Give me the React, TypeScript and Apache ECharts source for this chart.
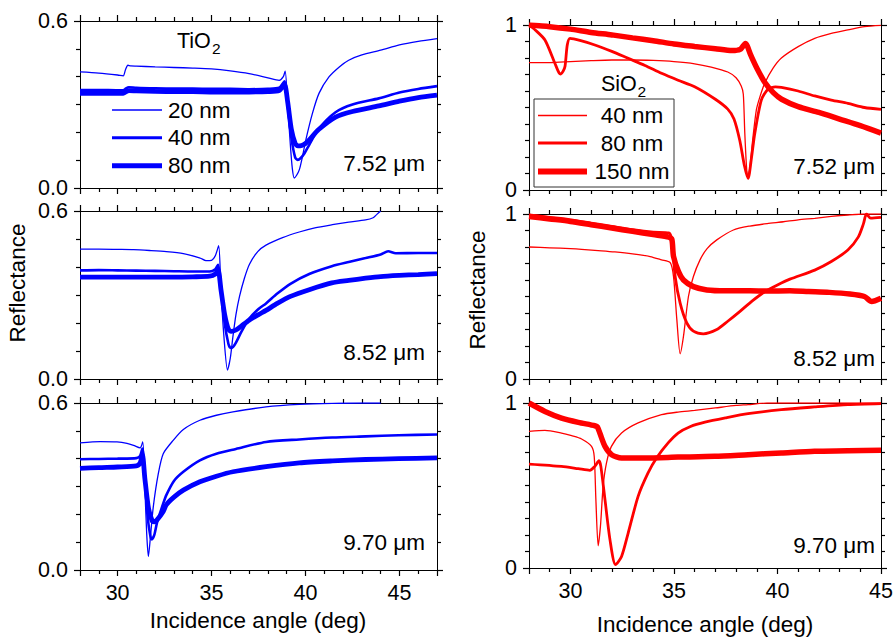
import React, { useEffect, useRef } from 'react';
import * as echarts from 'echarts';

const FONT = '"Liberation Sans", Arial, Helvetica, sans-serif';
const BLUE = '#0000ff';
const RED = '#ff0000';

// ---------- labels ----------
const WAVELENGTHS = ['7.52 μm', '8.52 μm', '9.70 μm'];
const TIO2_LEGEND = ['20 nm', '40 nm', '80 nm'];
const SIO2_LEGEND = ['40 nm', '80 nm', '150 nm'];
const X_TITLE = 'Incidence angle (deg)';
const Y_TITLE = 'Reflectance';
const TIO2_X_RANGE = [28, 47];
const SIO2_X_RANGE = [28, 45];
const TIO2_Y_RANGE = [0, 0.6];
const SIO2_Y_RANGE = [0, 1];

// ---------- TiO2, 7.52 um ----------
const tio2_752_20 = [[28.0,0.417],[29.0,0.413],[30.0,0.406],[30.3,0.403],[30.42,0.425],[30.55,0.441],[30.7,0.439],[31.0,0.438],[32.0,0.435],[33.0,0.433],[34.0,0.431],[35.0,0.428],[36.0,0.421],[37.0,0.411],[38.0,0.396],[38.6,0.387],[38.82,0.4],[38.92,0.42],[39.05,0.3],[39.2,0.15],[39.3,0.07],[39.4,0.036],[39.52,0.045],[39.67,0.065],[39.84,0.113],[40.02,0.173],[40.37,0.268],[40.72,0.34],[41.25,0.399],[41.8,0.435],[42.3,0.459],[43.0,0.478],[44.0,0.495],[45.0,0.514],[46.0,0.527],[47.0,0.537]];
const tio2_752_40 = [[28.0,0.352],[29.0,0.352],[30.0,0.351],[30.3,0.351],[30.45,0.358],[30.6,0.362],[31.0,0.36],[32.0,0.358],[33.0,0.357],[34.0,0.357],[35.0,0.356],[36.0,0.356],[37.0,0.355],[38.0,0.356],[38.6,0.36],[38.88,0.383],[39.05,0.3],[39.25,0.18],[39.45,0.11],[39.58,0.101],[39.75,0.108],[39.95,0.125],[40.2,0.155],[40.7,0.212],[41.6,0.272],[42.5,0.3],[43.9,0.322],[45.0,0.343],[46.0,0.356],[47.0,0.366]];
const tio2_752_80 = [[28.0,0.34],[29.0,0.34],[30.0,0.34],[30.3,0.34],[30.45,0.346],[30.6,0.35],[31.0,0.349],[32.0,0.347],[33.0,0.346],[34.0,0.346],[35.0,0.345],[36.0,0.345],[37.0,0.345],[38.0,0.346],[38.6,0.35],[38.88,0.372],[39.05,0.31],[39.25,0.21],[39.45,0.16],[39.6,0.151],[39.8,0.153],[40.0,0.16],[40.2,0.173],[40.7,0.21],[41.6,0.255],[42.5,0.275],[43.9,0.295],[45.0,0.312],[46.0,0.325],[47.0,0.334]];

// ---------- TiO2, 8.52 um ----------
const tio2_852_20 = [[28.0,0.464],[29.0,0.464],[30.0,0.463],[30.85,0.462],[31.7,0.459],[32.6,0.455],[33.5,0.448],[34.4,0.432],[34.7,0.423],[35.0,0.424],[35.2,0.44],[35.38,0.476],[35.5,0.32],[35.65,0.16],[35.85,0.032],[36.0,0.075],[36.14,0.152],[36.3,0.23],[36.49,0.295],[36.75,0.36],[37.02,0.41],[37.46,0.455],[37.9,0.478],[38.78,0.505],[39.67,0.525],[40.5,0.54],[41.43,0.551],[42.3,0.56],[43.2,0.568],[43.6,0.576],[43.8,0.588],[44.0,0.6]];
const tio2_852_40 = [[28.0,0.388],[29.0,0.389],[30.0,0.388],[31.0,0.387],[32.0,0.386],[33.0,0.385],[34.0,0.384],[34.9,0.384],[35.2,0.392],[35.35,0.408],[35.5,0.33],[35.7,0.2],[35.9,0.125],[36.02,0.111],[36.15,0.115],[36.3,0.13],[36.6,0.17],[37.0,0.215],[37.5,0.25],[37.9,0.27],[38.5,0.305],[39.2,0.34],[40.2,0.375],[41.4,0.403],[42.3,0.418],[43.2,0.432],[44.0,0.445],[44.4,0.456],[44.8,0.449],[46.0,0.45],[47.0,0.45]];
const tio2_852_80 = [[28.0,0.364],[29.0,0.364],[30.0,0.364],[31.0,0.364],[32.0,0.364],[33.0,0.364],[34.0,0.365],[34.9,0.367],[35.2,0.375],[35.35,0.39],[35.5,0.32],[35.7,0.23],[35.9,0.178],[36.05,0.17],[36.3,0.175],[36.6,0.19],[37.0,0.21],[37.5,0.23],[37.9,0.245],[38.5,0.27],[39.2,0.295],[40.2,0.319],[41.4,0.343],[42.3,0.352],[43.2,0.36],[44.0,0.366],[45.0,0.37],[46.0,0.373],[47.0,0.376]];

// ---------- TiO2, 9.70 um ----------
const tio2_970_20 = [[28.0,0.457],[29.08,0.461],[29.97,0.46],[30.5,0.455],[30.85,0.448],[31.2,0.439],[31.34,0.46],[31.45,0.3],[31.55,0.13],[31.64,0.048],[31.75,0.12],[31.9,0.227],[32.17,0.347],[32.43,0.418],[32.96,0.466],[33.5,0.505],[34.38,0.538],[35.26,0.556],[36.14,0.568],[37.9,0.586],[39.67,0.595],[41.43,0.599],[43.0,0.6],[44.0,0.6]];
const tio2_970_40 = [[28.0,0.398],[29.0,0.399],[30.0,0.4],[31.0,0.402],[31.2,0.41],[31.32,0.436],[31.45,0.33],[31.6,0.19],[31.75,0.12],[31.82,0.11],[31.95,0.125],[32.1,0.17],[32.43,0.239],[32.6,0.27],[33.0,0.32],[33.5,0.353],[34.38,0.394],[35.26,0.418],[36.3,0.435],[37.9,0.46],[39.67,0.469],[41.43,0.476],[43.2,0.48],[44.96,0.484],[47.0,0.487]];
const tio2_970_80 = [[28.0,0.365],[29.0,0.368],[30.0,0.37],[31.0,0.374],[31.2,0.385],[31.32,0.415],[31.45,0.33],[31.65,0.22],[31.85,0.175],[31.94,0.173],[32.1,0.18],[32.43,0.21],[32.6,0.235],[33.0,0.262],[33.5,0.287],[34.38,0.317],[35.26,0.337],[36.14,0.353],[37.9,0.371],[39.67,0.385],[41.43,0.392],[43.2,0.397],[44.96,0.4],[47.0,0.403]];

// ---------- SiO2, 7.52 um ----------
const sio2_752_40 = [[28.0,0.772],[29.0,0.772],[30.0,0.778],[31.0,0.784],[32.0,0.788],[33.0,0.788],[34.0,0.785],[35.0,0.778],[36.0,0.765],[36.8,0.745],[37.6,0.715],[38.0,0.68],[38.25,0.63],[38.35,0.58],[38.42,0.35],[38.5,0.15],[38.56,0.075],[38.65,0.12],[38.8,0.3],[38.98,0.485],[39.14,0.56],[39.38,0.646],[39.78,0.737],[40.19,0.8],[41.0,0.869],[41.8,0.919],[42.6,0.949],[43.4,0.97],[44.2,0.99],[45.0,0.998]];
const sio2_752_80 = [[28.0,1.0],[28.3,0.97],[28.77,0.909],[29.25,0.768],[29.45,0.71],[29.54,0.703],[29.65,0.72],[29.74,0.75],[29.85,0.88],[29.98,0.919],[30.5,0.905],[31.18,0.879],[32.0,0.84],[32.79,0.798],[33.6,0.755],[34.4,0.707],[35.2,0.665],[36.0,0.626],[37.0,0.55],[37.6,0.49],[37.9,0.43],[38.18,0.3],[38.4,0.15],[38.58,0.07],[38.75,0.2],[38.9,0.34],[39.22,0.545],[39.54,0.61],[39.9,0.625],[40.19,0.622],[41.0,0.6],[41.8,0.57],[42.6,0.545],[43.4,0.525],[44.2,0.5],[45.0,0.489]];
const sio2_752_150 = [[28.0,1.0],[29.0,0.99],[30.0,0.975],[31.0,0.955],[32.0,0.94],[33.0,0.922],[34.0,0.905],[35.0,0.885],[36.0,0.87],[37.0,0.856],[37.8,0.845],[38.2,0.852],[38.45,0.888],[38.7,0.82],[39.0,0.74],[39.4,0.65],[39.8,0.59],[40.2,0.55],[41.0,0.505],[42.0,0.47],[43.0,0.43],[44.0,0.39],[45.0,0.345]];

// ---------- SiO2, 8.52 um ----------
const sio2_852_40 = [[28.0,0.8],[29.0,0.795],[30.0,0.79],[30.54,0.786],[31.5,0.777],[32.15,0.77],[33.0,0.758],[33.85,0.742],[34.4,0.722],[34.82,0.705],[34.98,0.62],[35.14,0.36],[35.3,0.153],[35.46,0.258],[35.7,0.5],[35.94,0.621],[36.26,0.722],[36.6,0.79],[37.07,0.843],[37.87,0.903],[38.67,0.927],[39.5,0.942],[40.28,0.953],[41.0,0.965],[41.8,0.974],[42.6,0.985],[43.4,0.994],[44.2,1.0],[45.0,1.0]];
const sio2_852_80 = [[28.0,0.995],[29.0,0.98],[30.0,0.965],[31.0,0.945],[32.0,0.925],[33.0,0.905],[34.0,0.89],[34.75,0.885],[34.9,0.84],[35.06,0.62],[35.3,0.46],[35.62,0.34],[35.94,0.29],[36.42,0.274],[37.07,0.3],[37.6,0.35],[38.19,0.41],[38.8,0.475],[39.4,0.53],[40.0,0.57],[40.6,0.605],[41.8,0.66],[42.6,0.712],[43.4,0.782],[43.9,0.86],[44.15,0.94],[44.3,1.0],[44.5,0.975],[45.0,0.98]];
const sio2_852_150 = [[28.0,0.985],[29.0,0.97],[30.0,0.955],[31.0,0.935],[32.0,0.915],[33.0,0.895],[34.0,0.875],[34.75,0.86],[34.9,0.846],[34.98,0.742],[35.22,0.651],[35.46,0.6],[35.94,0.56],[36.59,0.54],[37.5,0.535],[38.67,0.535],[39.5,0.533],[40.6,0.535],[41.5,0.53],[42.5,0.525],[43.5,0.515],[44.2,0.5],[44.55,0.47],[45.0,0.49]];

// ---------- SiO2, 9.70 um ----------
const sio2_970_40 = [[28.0,0.828],[28.77,0.834],[29.57,0.818],[30.06,0.802],[30.54,0.782],[31.02,0.737],[31.15,0.676],[31.23,0.414],[31.34,0.135],[31.45,0.252],[31.58,0.495],[31.74,0.636],[31.98,0.737],[32.47,0.818],[33.27,0.879],[34.4,0.929],[35.2,0.945],[36.0,0.955],[37.0,0.97],[38.0,0.985],[38.58,0.99],[39.5,1.0],[45.0,1.0]];
const sio2_970_80 = [[28.0,0.63],[29.57,0.616],[30.38,0.602],[30.94,0.592],[31.18,0.616],[31.38,0.65],[31.47,0.616],[31.67,0.414],[31.91,0.172],[32.18,0.02],[32.47,0.07],[32.79,0.212],[33.27,0.434],[33.75,0.576],[34.16,0.667],[34.72,0.758],[35.2,0.818],[35.8,0.858],[36.5,0.884],[37.5,0.91],[38.58,0.935],[40.19,0.96],[41.79,0.976],[43.4,0.99],[45.0,0.996]];
const sio2_970_150 = [[28.0,1.0],[28.77,0.949],[29.57,0.909],[30.38,0.883],[31.18,0.862],[31.3,0.855],[31.42,0.818],[31.67,0.737],[31.99,0.687],[32.47,0.667],[33.6,0.667],[35.2,0.672],[36.97,0.677],[38.58,0.687],[40.19,0.697],[41.79,0.707],[43.4,0.711],[45.0,0.713]];

const TIO2_CURVES = [
  [tio2_752_20, tio2_752_40, tio2_752_80],
  [tio2_852_20, tio2_852_40, tio2_852_80],
  [tio2_970_20, tio2_970_40, tio2_970_80],
];
const SIO2_CURVES = [
  [sio2_752_40, sio2_752_80, sio2_752_150],
  [sio2_852_40, sio2_852_80, sio2_852_150],
  [sio2_970_40, sio2_970_80, sio2_970_150],
];

// ---------- layout (positions / styles) ----------
const GRIDS = [
  { left: 80, top: 21, width: 357, height: 167 },
  { left: 80, top: 211, width: 357, height: 168 },
  { left: 80, top: 403, width: 357, height: 167 },
  { left: 529, top: 25, width: 352, height: 165 },
  { left: 529, top: 214, width: 352, height: 165 },
  { left: 529, top: 403, width: 352, height: 165 },
];
const TIO2_WIDTHS = [1.3, 2.6, 4.8];
const SIO2_WIDTHS = [1.3, 2.8, 5.5];
const WL_POS = [
  [425, 163], [425, 352], [425, 542],
  [875, 166], [875, 358], [875, 545],
];

function axisParts(minorSplit: number) {
  return {
    axisLine: { show: true, onZero: false, lineStyle: { color: '#000', width: 1 } },
    axisTick: { show: true, inside: false, length: 6, lineStyle: { color: '#000', width: 1.2 } },
    minorTick: { show: true, splitNumber: minorSplit, length: 4, lineStyle: { color: '#000', width: 1.2 } },
    splitLine: { show: false },
  };
}

function buildOption() {
  const xAxis: any[] = [];
  const yAxis: any[] = [];
  const series: any[] = [];
  GRIDS.forEach((_, i) => {
    const col = i < 3 ? 0 : 1;
    const row = i % 3;
    const xr = col === 0 ? TIO2_X_RANGE : SIO2_X_RANGE;
    const yr = col === 0 ? TIO2_Y_RANGE : SIO2_Y_RANGE;
    const ySplit = col === 0 ? 6 : 10;
    xAxis.push({
      gridIndex: i, type: 'value', min: xr[0], max: xr[1], splitNumber: 4, position: 'bottom',
      ...axisParts(5),
      axisLabel: {
        show: row === 2, color: '#000', fontSize: 21.5, fontFamily: FONT, margin: 12,
        showMinLabel: false, showMaxLabel: col === 1,
      },
    });
    xAxis.push({
      gridIndex: i, type: 'value', min: xr[0], max: xr[1], splitNumber: 4, position: 'top',
      ...axisParts(5), axisLabel: { show: false },
    });
    yAxis.push({
      gridIndex: i, type: 'value', min: yr[0], max: yr[1], interval: yr[1] - yr[0], position: 'left',
      ...axisParts(ySplit),
      axisLabel: {
        show: true, color: '#000', fontSize: 21.5, fontFamily: FONT, margin: 12,
        formatter: (v: number) => (col === 0 ? v.toFixed(1) : String(v)),
      },
    });
    yAxis.push({
      gridIndex: i, type: 'value', min: yr[0], max: yr[1], interval: yr[1] - yr[0], position: 'right',
      ...axisParts(ySplit), axisLabel: { show: false },
    });

    const curves = col === 0 ? TIO2_CURVES[row] : SIO2_CURVES[row];
    const widths = col === 0 ? TIO2_WIDTHS : SIO2_WIDTHS;
    const names = col === 0 ? TIO2_LEGEND : SIO2_LEGEND;
    curves.forEach((data, k) => {
      series.push({
        type: 'line', name: names[k], xAxisIndex: 2 * i, yAxisIndex: 2 * i,
        data, showSymbol: false, symbol: 'none', smooth: 0.25,
        lineStyle: { color: col === 0 ? BLUE : RED, width: widths[k] },
      });
    });
  });

  const txt = (text: string, x: number, y: number, size: number, align = 'left', extra: any = {}) => ({
    type: 'text', x, y, z: 100, ...extra,
    style: { text, fontSize: size, fontFamily: FONT, fill: '#000', align, verticalAlign: 'middle' },
  });
  const ln = (x1: number, x2: number, y: number, color: string, w: number) => ({
    type: 'line', z: 100, shape: { x1, y1: y, x2, y2: y }, style: { stroke: color, lineWidth: w },
  });

  const graphic: any[] = [];
  graphic.push(txt(Y_TITLE, 17, 283, 22.5, 'center', { rotation: Math.PI / 2 }));
  graphic.push(txt(Y_TITLE, 477, 290, 22.5, 'center', { rotation: Math.PI / 2 }));
  graphic.push(txt(X_TITLE, 258, 620, 22.5, 'center'));
  graphic.push(txt(X_TITLE, 705, 624, 22.5, 'center'));
  WL_POS.forEach((p, i) => graphic.push(txt(WAVELENGTHS[i % 3], p[0], p[1], 22.5, 'right')));
  graphic.push(txt('TiO', 177, 41, 21.5));
  graphic.push(txt('2', 212, 48, 15.5));
  graphic.push(txt('SiO', 601, 84, 21.5));
  graphic.push(txt('2', 637.5, 91, 15.5));
  const tiY = [110, 137.7, 165.7];
  const tiW = [1.5, 3, 5];
  tiY.forEach((y, k) => {
    graphic.push(ln(112, 162, y, BLUE, tiW[k]));
    graphic.push(txt(TIO2_LEGEND[k], 168, y, 22.5));
  });
  graphic.push({
    type: 'rect', z: 99, shape: { x: 534, y: 99, width: 140, height: 88 },
    style: { fill: '#fff', stroke: '#333', lineWidth: 1 },
  });
  const siY = [115.5, 143, 171.5];
  const siW = [1.5, 3, 6];
  siY.forEach((y, k) => {
    graphic.push(ln(538, 587, y, RED, siW[k]));
    graphic.push(txt(SIO2_LEGEND[k], 632, y, 22.5, 'center'));
  });

  return {
    animation: false,
    grid: GRIDS,
    xAxis, yAxis, series, graphic,
  };
}

export default function App() {
  const ref = useRef<HTMLDivElement>(null);
  useEffect(() => {
    if (!ref.current) return;
    const chart = echarts.init(ref.current, null, { renderer: 'svg' });
    chart.setOption(buildOption() as any);
    return () => chart.dispose();
  }, []);
  return (
    <div
      ref={ref}
      style={{ position: 'fixed', left: 0, top: 0, width: 896, height: 640, background: '#fff' }}
    />
  );
}
